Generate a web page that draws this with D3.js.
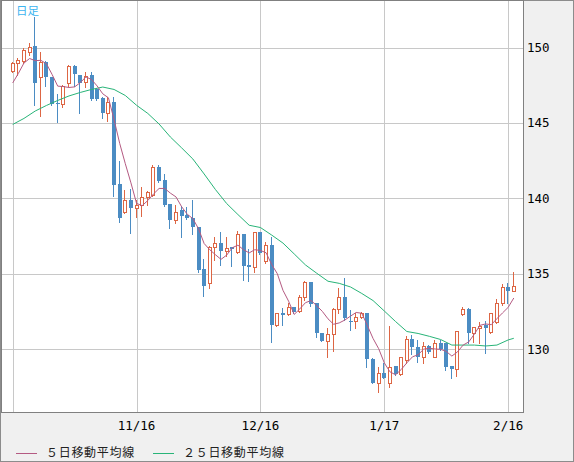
<!DOCTYPE html>
<html>
<head>
<meta charset="utf-8">
<script src="https://cdn.jsdelivr.net/npm/d3@7"></script>
<style>
body { margin: 0; background: #f0f0f0; }
.axis-label { font-family: "DejaVu Sans Mono", "Liberation Mono", monospace; font-size: 12.5px; fill: #000; }
.legend-label { font-family: "Noto Sans CJK JP", sans-serif; font-size: 12px; fill: #222; letter-spacing: 0.7px; }
</style>
</head>
<body>
<svg id="chart" width="574" height="462"></svg>
<script>
// ########### DATA (daily candles, oldest first) ###########

var openP = [148.46,148.95,149.13,149.72,150.10,148.03,149.06,148.03,146.34,146.26,
	147.67,148.77,148.18,147.73,148.18,147.23,146.63,145.68,146.37,140.93,
	139.08,139.89,139.34,139.56,140.11,140.23,142.06,141.22,139.61,138.57,
	139.23,138.90,138.72,138.12,135.32,134.41,136.76,137.02,136.53,136.76,
	136.43,137.64,135.59,135.43,137.77,135.87,136.91,131.61,132.39,132.32,
	132.78,132.56,133.45,134.44,133.05,131.10,130.57,130.99,132.65,133.45,
	131.90,131.88,132.16,132.43,129.34,127.75,128.46,127.75,128.89,128.36,
	129.29,130.66,130.13,129.51,130.22,129.51,130.40,130.40,128.89,128.67,
	132.32,132.65,131.06,131.39,131.61,131.17,131.83,133.05,134.11,133.88]

var highP = [149.06,149.32,149.95,150.32,152.00,149.72,149.13,148.07,146.92,147.50,
	148.84,148.84,148.18,148.40,148.40,147.32,146.72,146.70,146.74,142.48,
	140.56,140.60,139.89,140.74,140.47,142.21,142.21,141.62,139.61,139.56,
	139.50,139.41,139.89,138.12,135.96,136.85,137.46,137.79,137.46,136.80,
	137.86,137.64,136.65,137.79,137.77,137.13,137.42,132.40,132.72,133.05,
	132.78,133.60,134.53,134.44,133.05,131.10,131.39,132.72,134.04,134.71,
	132.60,132.43,132.49,132.43,129.42,128.85,129.09,131.54,128.89,129.51,
	130.88,130.95,130.62,130.50,130.28,130.62,130.62,130.40,128.89,131.21,
	132.82,132.72,131.50,131.83,131.88,132.43,133.31,134.33,134.37,135.14]

var lowP = [148.38,148.18,148.95,149.50,146.19,145.48,147.45,146.19,145.08,146.08,
	147.45,147.45,145.66,147.36,146.52,146.52,145.31,145.15,140.16,138.46,
	139.03,137.69,138.75,138.83,139.56,140.16,141.11,139.50,138.02,138.35,
	137.46,138.62,137.64,135.14,133.55,134.08,135.92,135.59,136.20,135.54,
	136.36,134.59,134.55,135.14,136.30,135.70,130.50,131.54,131.61,132.27,
	132.41,132.49,133.27,132.87,130.80,130.57,129.47,129.91,132.39,131.94,
	131.28,131.39,132.07,128.85,127.75,127.19,128.08,127.52,128.30,128.30,
	129.07,129.69,129.18,129.07,129.77,129.47,129.95,128.63,128.08,128.23,
	132.27,130.44,130.50,130.40,129.77,131.10,131.72,132.94,133.05,133.88]

var closeP = [148.95,149.17,149.83,150.05,147.63,149.06,148.03,146.26,146.24,147.45,
	148.77,148.24,147.67,148.11,146.59,146.62,145.68,146.37,140.89,138.68,
	139.89,139.34,139.56,140.11,140.40,142.06,141.17,139.56,138.57,139.12,
	138.83,138.68,138.08,135.26,134.19,136.80,137.02,136.51,136.69,136.63,
	137.64,135.54,135.43,137.75,136.38,136.91,131.61,132.39,132.27,132.78,
	132.49,133.45,134.44,132.98,131.10,130.57,130.99,132.65,133.45,132.05,
	131.86,132.16,132.43,129.34,127.79,128.45,128.10,128.85,128.36,129.51,
	130.66,130.13,129.51,130.22,129.84,130.40,130.00,128.85,128.67,131.21,
	132.65,131.06,131.46,131.54,131.39,132.39,133.09,134.11,133.88,134.19]

// 5 day moving average, one value per candle
var ma5 = [147.65,148.28,148.97,149.27,149.13,149.15,148.92,148.21,147.44,147.41,
	147.35,147.39,147.67,148.05,147.88,147.45,146.93,146.67,145.23,143.65,
	142.30,141.03,139.67,139.52,139.86,140.29,140.66,140.66,140.35,140.10,
	139.45,138.95,138.66,137.99,137.01,136.60,136.27,135.96,136.24,136.73,
	136.90,136.60,136.39,136.60,136.55,136.40,135.62,135.01,133.91,133.19,
	132.31,132.68,133.09,133.23,132.89,132.51,132.02,131.66,131.75,131.94,
	132.20,132.44,132.39,131.57,130.72,130.04,129.10,128.51,128.31,128.66,
	129.10,129.50,129.64,130.01,130.07,130.02,130.00,129.86,129.55,129.83,
	130.28,130.49,131.01,131.59,131.68,131.63,132.03,132.41,132.78,133.40]

// 25 day moving average, read every second candle
var ma25Idx = [0,2,4,6,8,10,12,14,16,18,20,22,24,26,28,30,32,34,36,38,40,42,44,
	46,48,50,52,54,56,58,60,62,64,66,68,70,72,74,76,78,80,82,84,86,88,89]
var ma25 = [144.90,145.30,145.79,146.16,146.49,146.79,147.02,147.22,147.38,147.22,
	146.82,146.17,145.63,144.93,144.07,143.35,142.61,141.62,140.59,139.66,
	138.93,138.22,138.07,137.57,137.04,136.32,135.59,135.04,134.51,134.37,
	134.13,133.70,133.23,132.54,131.84,131.18,131.05,130.86,130.65,130.28,
	130.28,130.28,130.22,130.28,130.62,130.73]

var yTicks = [130, 135, 140, 145, 150]
var xTickIdx = [22, 44, 66, 88]
var xTickLabels = ['11/16', '12/16', '1/17', '2/16']

var upColor = '#dd6644'
var downColor = '#4b8cc3'
var ma5Color = '#b45a82'
var ma25Color = '#28b478'

// ########### SETUP ###########

var svg = d3.select('#chart')
var plot = { left: 1, top: 0, right: 523, bottom: 412 }

var x = d3.scaleLinear().domain([0, 89]).range([12.7, 513.8])
var y = d3.scaleLinear().domain([130, 150]).range([349.3, 47.5])

var crisp = function(v){
	return Math.round(v) + 0.5
}

svg.append('rect')
	.attr('x', 0.5).attr('y', 0.5)
	.attr('width', 573).attr('height', 461)
	.attr('fill', '#f0f0f0')
	.attr('stroke', '#8c8c8c')

svg.append('rect')
	.attr('x', plot.left + 0.5).attr('y', plot.top + 0.5)
	.attr('width', plot.right - plot.left).attr('height', plot.bottom - plot.top)
	.attr('fill', '#fff')
	.attr('stroke', '#808080')

// Grid
var grid = svg.append('g').attr('stroke', '#c8c8c8').attr('stroke-width', 1)

grid.selectAll('.hgrid').data(yTicks).enter().append('line')
	.attr('x1', plot.left + 1).attr('x2', plot.right)
	.attr('y1', function(d){ return crisp(y(d)) })
	.attr('y2', function(d){ return crisp(y(d)) })

grid.selectAll('.vgrid').data([0].concat(xTickIdx)).enter().append('line')
	.attr('y1', plot.top + 1).attr('y2', plot.bottom)
	.attr('x1', function(d){ return crisp(x(d)) })
	.attr('x2', function(d){ return crisp(x(d)) })

// Axis labels
svg.selectAll('.ylab').data(yTicks).enter().append('text')
	.attr('class', 'axis-label')
	.attr('x', 527)
	.attr('y', function(d){ return y(d) })
	.attr('dy', '0.36em')
	.text(function(d){ return d })

svg.selectAll('.xlab').data(xTickIdx).enter().append('text')
	.attr('class', 'axis-label')
	.attr('text-anchor', 'middle')
	.attr('x', function(d){ return x(d) })
	.attr('y', 430)
	.text(function(d, i){ return xTickLabels[i] })

svg.append('text')
	.attr('x', 16).attr('y', 15)
	.attr('fill', '#3cb4f0')
	.style('font-family', '"Noto Sans CJK JP", sans-serif')
	.style('font-size', '11.5px')
	.text('日足')

// ########### CANDLES ###########

var candles = svg.append('g')

openP.forEach(function(o, i){
	var c = closeP[i]
	var up = c >= o
	var cx = Math.round(x(i))
	var color = up ? upColor : downColor
	var top = Math.round(y(Math.max(o, c)))
	var bot = Math.round(y(Math.min(o, c)))

	candles.append('line')
		.attr('x1', cx - 0.5).attr('x2', cx - 0.5)
		.attr('y1', Math.round(y(highP[i]))).attr('y2', Math.round(y(lowP[i])) + 1)
		.attr('stroke', color)

	if (up){
		candles.append('rect')
			.attr('x', cx - 1.5).attr('y', top + 0.5)
			.attr('width', 3).attr('height', Math.max(bot - top, 1))
			.attr('fill', '#fff')
			.attr('stroke', color)
	}
	else{
		candles.append('rect')
			.attr('x', cx - 2).attr('y', top)
			.attr('width', 4).attr('height', Math.max(bot - top, 1))
			.attr('fill', color)
	}
})

// ########### MOVING AVERAGES ###########

var line = d3.line()
	.x(function(d){ return x(d[0]) })
	.y(function(d){ return y(d[1]) })

svg.append('path')
	.datum(ma25.map(function(v, i){ return [ma25Idx[i], v] }))
	.attr('d', line)
	.attr('fill', 'none')
	.attr('stroke', ma25Color)
	.attr('stroke-width', 1)

svg.append('path')
	.datum(ma5.map(function(v, i){ return [i, v] }))
	.attr('d', line)
	.attr('fill', 'none')
	.attr('stroke', ma5Color)
	.attr('stroke-width', 1)

// ########### LEGEND ###########

var legend = [
	{ name: '５日移動平均線', color: ma5Color, x: 16 },
	{ name: '２５日移動平均線', color: ma25Color, x: 153 }
]

legend.forEach(function(item){
	svg.append('line')
		.attr('x1', item.x).attr('x2', item.x + 21)
		.attr('y1', 453.5).attr('y2', 453.5)
		.attr('stroke', item.color)
	svg.append('text')
		.attr('class', 'legend-label')
		.attr('x', item.x + 30).attr('y', 453)
		.attr('dy', '0.36em')
		.text(item.name)
})
</script>
</body>
</html>
